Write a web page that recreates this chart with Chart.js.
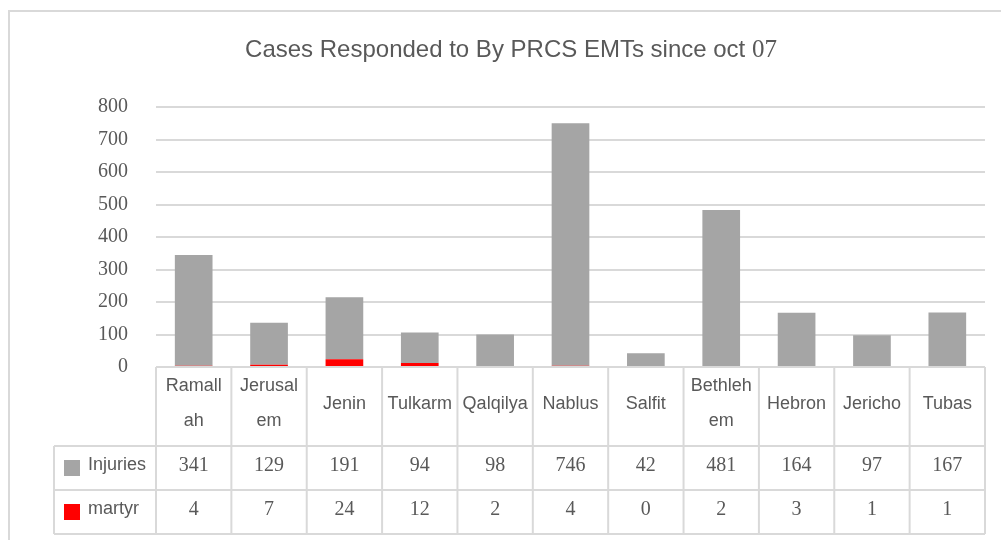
<!DOCTYPE html>
<html>
<head>
<meta charset="utf-8">
<script src="https://cdn.jsdelivr.net/npm/chart.js@4.4.1/dist/chart.umd.min.js"></script>
<style>
  body { margin: 0; background: #fff; }
  canvas { display: block; }
</style>
</head>
<body>
<canvas id="chart" width="1001" height="540"></canvas>
<script>
// data
const categories = ['Ramallah', 'Jerusalem', 'Jenin', 'Tulkarm', 'Qalqilya', 'Nablus', 'Salfit', 'Bethlehem', 'Hebron', 'Jericho', 'Tubas'];
// the header cells wrap the way the original table does
const headerLines = [['Ramall', 'ah'], ['Jerusal', 'em'], ['Jenin'], ['Tulkarm'], ['Qalqilya'], ['Nablus'], ['Salfit'], ['Bethleh', 'em'], ['Hebron'], ['Jericho'], ['Tubas']];
const injuries = [341, 129, 191, 94, 98, 746, 42, 481, 164, 97, 167];
const martyr = [4, 7, 24, 12, 2, 4, 0, 2, 3, 1, 1];
const yTickValues = [0, 100, 200, 300, 400, 500, 600, 700, 800];
const titleMain = 'Cases Responded to By PRCS EMTs since oct ';
const titleNum = '07';

const textColor = '#595959';
const lineColor = '#d9d9d9';
const sans = '"Liberation Sans", Arial, sans-serif';
const serif = '"Liberation Serif", "Times New Roman", serif';

// table rows, in the order they appear under the chart
const tableRows = [
    { label: 'Injuries', values: injuries, color: '#a5a5a5' },
    { label: 'martyr', values: martyr, color: '#ff0000' },
];

const tablePlugin = {
    id: 'tablePlugin',
    beforeDraw(chart) {
        const ctx = chart.ctx;
        ctx.save();
        ctx.strokeStyle = lineColor;
        ctx.lineWidth = 2;
        ctx.beginPath();
        ctx.moveTo(9, 541);
        ctx.lineTo(9, 11);
        ctx.lineTo(1002, 11);
        ctx.stroke();
        ctx.restore();
    },
    afterDraw(chart) {
        const ctx = chart.ctx;
        const x = chart.scales.x;
        const area = chart.chartArea;
        const n = categories.length;
        const cw = (x.right - x.left) / n;
        const top = area.bottom;
        const headBottom = 446;
        const rowH = 44;
        const labelLeft = 54;
        const bottom = headBottom + rowH * tableRows.length;

        ctx.save();
        // title (the "07" is set in a serif face in the original)
        ctx.fillStyle = textColor;
        ctx.textBaseline = 'middle';
        ctx.font = '24px ' + sans;
        const w1 = ctx.measureText(titleMain).width;
        ctx.font = '25px ' + serif;
        const w2 = ctx.measureText(titleNum).width;
        const tx = 511 - (w1 + w2) / 2;
        ctx.textAlign = 'left';
        ctx.font = '24px ' + sans;
        ctx.fillText(titleMain, tx, 50);
        ctx.font = '25px ' + serif;
        ctx.fillText(titleNum, tx + w1, 50);

        // grid of the data table
        ctx.strokeStyle = lineColor;
        ctx.lineWidth = 2;
        ctx.beginPath();
        ctx.moveTo(x.left, top);
        ctx.lineTo(x.right, top);
        for (let r = 0; r <= tableRows.length; r++) {
            const y = headBottom + r * rowH;
            ctx.moveTo(labelLeft, y);
            ctx.lineTo(x.right, y);
        }
        ctx.moveTo(labelLeft, headBottom);
        ctx.lineTo(labelLeft, bottom);
        for (let i = 0; i <= n; i++) {
            const gx = x.left + i * cw;
            ctx.moveTo(gx, top);
            ctx.lineTo(gx, bottom);
        }
        ctx.stroke();

        // header labels
        ctx.textAlign = 'center';
        ctx.font = '18px ' + sans;
        for (let i = 0; i < n; i++) {
            const cx = x.getPixelForValue(i);
            const lines = headerLines[i];
            const start = 404 - (lines.length - 1) * 17.5;
            lines.forEach((t, k) => ctx.fillText(t, cx, start + k * 35));
        }

        // value rows with legend keys
        tableRows.forEach((row, r) => {
            const cy = headBottom + r * rowH + rowH / 2;
            ctx.fillStyle = row.color;
            ctx.fillRect(64, cy - 8, 16, 16);
            ctx.fillStyle = textColor;
            ctx.textAlign = 'left';
            ctx.font = '18px ' + sans;
            ctx.fillText(row.label, 88, cy - 3);
            ctx.textAlign = 'center';
            ctx.font = '20px ' + serif;
            row.values.forEach((v, i) => {
                ctx.fillText(String(v), x.getPixelForValue(i), cy - 2);
            });
        });
        ctx.restore();
    }
};

new Chart(document.getElementById('chart'), {
    type: 'bar',
    data: {
        labels: categories,
        datasets: [
            { label: 'martyr', data: martyr, backgroundColor: '#ff0000', barPercentage: 0.5, categoryPercentage: 1 },
            { label: 'Injuries', data: injuries, backgroundColor: '#a5a5a5', barPercentage: 0.5, categoryPercentage: 1 },
        ],
    },
    options: {
        responsive: false,
        animation: false,
        layout: { padding: { top: 107, left: 0, right: 16, bottom: 173 } },
        scales: {
            x: { stacked: true, display: false },
            y: {
                stacked: true,
                min: 0,
                max: 800,
                afterFit(scale) { scale.width = 156; },
                afterBuildTicks(scale) { scale.ticks = yTickValues.map(v => ({ value: v })); },
                border: { display: false },
                grid: { color: lineColor, lineWidth: 2, drawTicks: false },
                ticks: {
                    padding: 28,
                    color: textColor,
                    font: { family: serif, size: 20 },
                },
            },
        },
        plugins: {
            legend: { display: false },
            title: { display: false },
            tooltip: { enabled: false },
        },
    },
    plugins: [tablePlugin],
});
</script>
</body>
</html>
